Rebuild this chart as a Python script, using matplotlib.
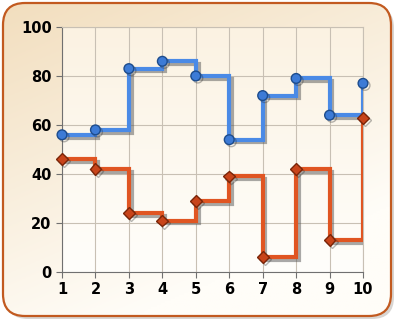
import numpy as np
import matplotlib.pyplot as plt
from matplotlib.patches import FancyBboxPatch
from matplotlib.colors import LinearSegmentedColormap
import matplotlib.patheffects as pe

# dados
x = [1, 2, 3, 4, 5, 6, 7, 8, 9, 10]
azul = [56, 58, 83, 86, 80, 54, 72, 79, 64, 77]
vermelho = [46, 42, 24, 21, 29, 39, 6, 42, 13, 63]
yticks = [0, 20, 40, 60, 80, 100]

fig = plt.figure(figsize=(4, 3.25), dpi=100)

# fundo com borda arredondada e degradê
bg = fig.add_axes([0, 0, 1, 1])
bg.set_xlim(0, 400)
bg.set_ylim(325, 0)
bg.axis("off")
shadow = FancyBboxPatch((6, 6), 388, 313, boxstyle="round,pad=0,rounding_size=22",
                        facecolor="#c8c4c0", edgecolor="none", alpha=0.7, zorder=-2)
bg.add_patch(shadow)
fill = FancyBboxPatch((3, 3), 388, 313, boxstyle="round,pad=0,rounding_size=22",
                      facecolor="white", edgecolor="none", zorder=-1)
bg.add_patch(fill)
box = FancyBboxPatch((3, 3), 388, 313, boxstyle="round,pad=0,rounding_size=22",
                     facecolor="none", edgecolor="#c25a20", linewidth=1.6, zorder=2)
bg.add_patch(box)
gx, gy = np.meshgrid(np.linspace(0, 1, 200), np.linspace(0, 1, 160))
t = np.clip((gx * 0.45 + gy * 0.85), 0, 1)
c0 = np.array([242, 222, 190]) / 255
c1 = np.array([255, 253, 248]) / 255
img = c0 + (c1 - c0) * t[..., None]
im = bg.imshow(img, extent=[3, 391, 316, 3], aspect="auto", zorder=0)
im.set_clip_path(fill)

ax = fig.add_axes([0.155, 0.163, 0.7525, 0.754])
ax.set_xlim(1, 10)
ax.set_ylim(0, 100)
ax.set_facecolor("none")
cm = LinearSegmentedColormap.from_list("c", ["#fbf2e2", "#fffefb"])
ax.imshow(np.linspace(0, 1, 100)[:, None], extent=[1, 10, 0, 100], aspect="auto",
          cmap=cm, vmin=0, vmax=1, zorder=0)

ax.set_xticks(x)
ax.set_yticks(yticks)
ax.grid(True, color="#c8c0b4", linewidth=0.8)
ax.set_axisbelow(True)
for s in ["top", "right"]:
    ax.spines[s].set_color("#c8c0b4")
for s in ["left", "bottom"]:
    ax.spines[s].set_color("#707070")
ax.tick_params(colors="#707070", labelcolor="black", length=4, labelsize=10.5)
for lab in ax.get_xticklabels() + ax.get_yticklabels():
    lab.set_fontweight("bold")

sombra = [pe.SimpleLineShadow(offset=(2, -2), shadow_color="#555555", alpha=0.5), pe.Normal()]
sombra_m = [pe.SimpleLineShadow(offset=(1.5, -1.5), shadow_color="#333333", alpha=0.35), pe.Normal()]
ax.plot(x, azul, drawstyle="steps-post", color="#4a8ae6", linewidth=3, zorder=3,
        path_effects=sombra, solid_joinstyle="miter")
ax.plot(x, azul, "o", color="#3d7bd6", markeredgecolor="#1d4c8c", markersize=7, zorder=4,
        clip_on=False, path_effects=sombra_m)
ax.plot(x, vermelho, drawstyle="steps-post", color="#e05522", linewidth=3, zorder=3,
        path_effects=sombra, solid_joinstyle="miter")
ax.plot(x, vermelho, "D", color="#c8441a", markeredgecolor="#7a2508", markersize=6, zorder=4,
        clip_on=False, path_effects=sombra_m)

fig.savefig("out.png", dpi=100)
